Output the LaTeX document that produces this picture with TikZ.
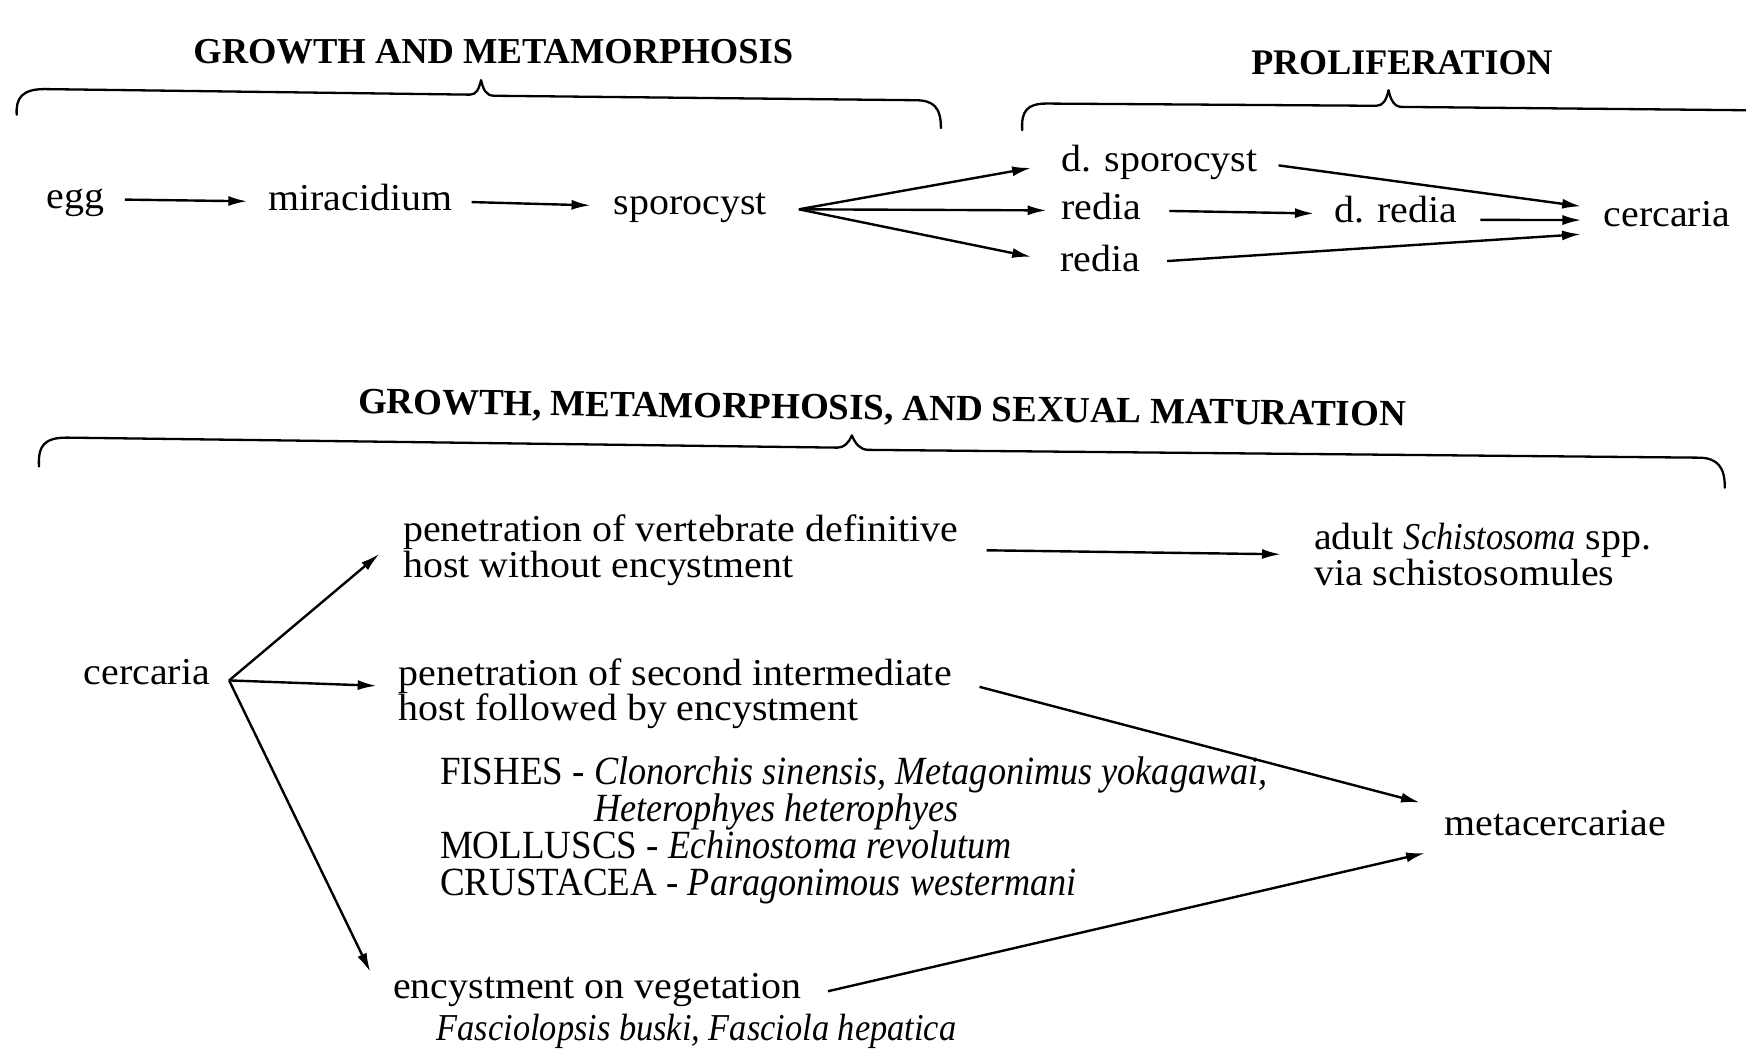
\documentclass[tikz,border=0pt]{standalone}
\usepackage{fontspec}
\setmainfont{Liberation Serif}[UprightFeatures={FakeStretch=1.05}, ItalicFeatures={FakeStretch=0.905}]
\newfontfamily\capsfont{Liberation Serif}[FakeStretch=0.925]
\usetikzlibrary{arrows.meta}
\tikzset{
  lbl/.style={inner sep=0pt, font={\fontsize{38pt}{35.6pt}\selectfont}, text height=26pt, text depth=8.2pt, anchor=base west},
  lbltwo/.style={inner sep=0pt, font={\fontsize{38pt}{35.6pt}\selectfont\lineskiplimit=-100pt}, align=left, anchor=north west},
  head/.style={inner sep=0pt, font={\fontsize{36.5pt}{40pt}\selectfont\bfseries}, anchor=base},
  arr/.style={line width=2.4pt, -{Latex[length=19pt,width=10pt]}},
  bracepath/.style={line width=2.3pt, line cap=round, line join=round},
}
\begin{document}
\begin{tikzpicture}[x=1.1135pt, y=-1.1135pt]
\useasboundingbox[fill=white] (0,0) rectangle (1568,942);

% headings
\node[head] (h1) at (443,57) {GROWTH AND METAMORPHOSIS};
\node[head, font={\fontsize{36pt}{40pt}\selectfont\bfseries}] (h2) at (1259,67) {PROLIFERATION};
\node[head, rotate=-0.7, font={\fontsize{36.9pt}{40pt}\selectfont\bfseries}] (h3) at (792,377) {GROWTH, METAMORPHOSIS, AND SEXUAL MATURATION};

% braces
\draw[bracepath] (15,103) .. controls (14,88) and (20,80) .. (40,80) -- (422,85)
  .. controls (428,85) and (430,80) .. (432,72) .. controls (434,80) and (436,86) .. (444,86)
  -- (822,90) .. controls (838,90) and (845,96) .. (845,115);
\draw[bracepath] (918,117) .. controls (917,100) and (922,93) .. (940,93) -- (1236,95)
  .. controls (1242,95) and (1245,90) .. (1247,81) .. controls (1249,90) and (1252,96) .. (1259,96)
  -- (1568,99);
\draw[bracepath] (35,419) .. controls (34,400) and (40,393) .. (60,393) -- (752,402)
  .. controls (758,402) and (762,398) .. (765,391) .. controls (768,398) and (772,404) .. (780,404)
  -- (1525,411) .. controls (1543,411) and (1549,420) .. (1549,438);

% top row
\node[lbl] (egg)  at (42,187)  {egg};
\node[lbl] (mira) at (241,189) {miracidium};
\node[lbl] (spor) at (551,193) {sporocyst};
\node[lbl] (dsp)  at (953,154) {d. sporocyst};
\node[lbl] (r1)   at (953,197) {redia};
\node[lbl] (r2)   at (952,244) {redia};
\node[lbl] (dred) at (1198,200) {d. redia};
\node[lbl] (cerc) at (1440,203) {cercaria};

\draw[arr, shorten <=20pt, shorten >=21pt] (egg.east) -- (mira.west);
\draw[arr, shorten <=19pt, shorten >=23pt] (mira.east) -- (spor.west);
\coordinate (f0) at ([xshift=32pt,yshift=-3.3pt]spor.east);
\draw[arr, shorten >=30.5pt] (f0) -- (dsp.west);
\draw[arr, shorten >=14.5pt] (f0) -- (r1.west);
\draw[arr, shorten >=29.5pt] (f0) -- (r2.west);
\draw[arr, shorten <=28pt, shorten >=20pt] (r1.east) -- (dred.west);
\draw[arr, shorten <=21pt, shorten >=22.5pt] (dsp.east) -- ([yshift=7.8pt]cerc.west);
\draw[arr, shorten <=23pt, shorten >=22pt] ([yshift=-6pt]dred.east) -- ([yshift=-3pt]cerc.west);
\draw[arr, shorten <=27pt, shorten >=22.5pt] (r2.east) -- ([yshift=-15.6pt]cerc.west);

% bottom part
\node[lbl] (cerc2) at (75,615) {cercaria};
\node[lbltwo] (pen1) at (362,462) {penetration of vertebrate definitive\\host without encystment};
\node[lbltwo] (adult) at (1180,470) {adult \textit{Schistosoma} spp.\\via schistosomules};
\node[lbltwo] (pen2) at (358,591) {penetration of second intermediate\\host followed by encystment};
\node[lbltwo, font={\fontsize{40pt}{37pt}\selectfont\lineskiplimit=-100pt}] (spc) at (395,679)
  {{\capsfont FISHES - }\textit{Clonorchis sinensis, Metagonimus yokagawai,}\\
   \phantom{\capsfont FISHES - }\textit{Heterophyes heterophyes}\\
   {\capsfont MOLLUSCS - }\textit{Echinostoma revolutum}\\
   {\capsfont CRUSTACEA - }\textit{Paragonimous westermani}};
\node[lbl] (meta) at (1297,750) {metacercariae};
\node[lbl] (enc) at (353,897) {encystment on vegetation};
\node[lbl] (encsp) at (392,934) {\textit{Fasciolopsis buski, Fasciola hepatica}};

\coordinate (c0) at ([xshift=19pt,yshift=-4.5pt]cerc2.east);
\draw[arr, shorten >=31pt] (c0) -- ([yshift=16pt]pen1.west);
\draw[arr, shorten >=22pt] (c0) -- ([yshift=7pt]pen2.west);
\draw[arr, shorten >=20pt] (c0) -- ([xshift=-14pt]enc.west);
\draw[arr, shorten <=28pt, shorten >=33pt] (pen1.east) -- (adult.west);
\draw[arr, shorten <=28.6pt, shorten >=25pt] ([yshift=14pt]pen2.east) -- (meta.north west);
\draw[arr, shorten <=27.4pt, shorten >=19.6pt] ([yshift=-7.5pt]enc.east) -- ([yshift=-5pt]meta.south west);
\end{tikzpicture}
\end{document}
